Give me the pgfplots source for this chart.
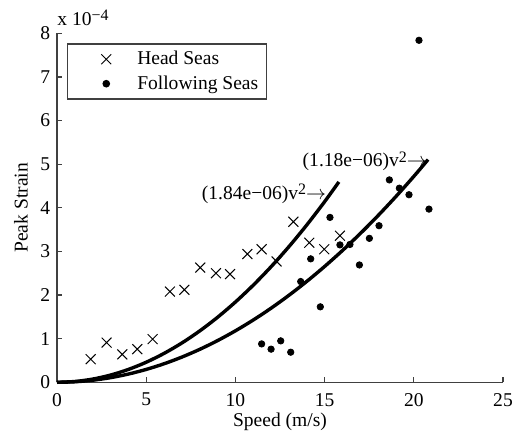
\documentclass[border=0pt]{standalone}
\usepackage{fontspec}
\setmainfont{Liberation Serif}
\usepackage{pgfplots}
\pgfplotsset{compat=1.18}
\begin{document}
\fontsize{9.8}{11.8}\selectfont
\begin{tikzpicture}
\useasboundingbox (-28.5bp,-27.35bp) rectangle (232bp,191.15bp);
\begin{axis}[at={(0,0)}, anchor=south west, scale only axis,
  width=223bp, height=174.5bp,
  xmin=0, xmax=25, ymin=0, ymax=8, clip=false,
  axis lines=left, axis line style={-, black!75, line width=0.7bp},
  xtick={0,5,...,25}, ytick={0,1,...,8},
  tick align=inside, major tick length=2.5bp,
  tick style={black!75, line width=0.6bp},
  /pgf/number format/assume math mode=true,
  scaled y ticks=false,
  xticklabel style={yshift=-2bp},
  xlabel={Speed (m/s)}, ylabel={Peak Strain},
  xlabel style={at={(axis description cs:0.5,-0.1146)}, anchor=center},
  ylabel style={at={(axis description cs:-0.0807,0.5)}, anchor=center},
  legend style={at={(axis description cs:0.0217,0.971)}, anchor=north west,
    draw=black!75, line width=0.6bp, inner xsep=2bp, inner ysep=1.5bp,
    cells={anchor=west}, row sep=0bp},
  legend image code/.code={\path[draw=none,fill=none] (0bp,0bp) (31bp,0bp);
    \draw[mark repeat=2,mark phase=2,#1] plot coordinates {(0bp,0bp)(17.5bp,0bp)(35bp,0bp)};},
]
\addplot[only marks, mark=x, mark size=3.5bp, line width=0.5bp, black] coordinates {
(1.89,0.53) (2.78,0.91) (3.66,0.64) (4.50,0.76) (5.36,0.99) (6.33,2.08)
(7.14,2.12) (8.03,2.63) (8.91,2.50) (9.70,2.48) (10.67,2.94) (11.47,3.05)
(12.31,2.77) (13.25,3.68) (14.14,3.20) (14.98,3.05) (15.86,3.36)
};
\addlegendentry{Head Seas}
\addplot[only marks, mark=*, mark size=1.6bp, black] coordinates {
(11.47,0.88) (12.00,0.76) (12.54,0.95) (13.10,0.69) (13.66,2.31) (14.22,2.83)
(14.76,1.73) (15.30,3.78) (15.86,3.15) (16.42,3.16) (16.95,2.69) (17.51,3.30)
(18.05,3.59) (18.63,4.64) (19.19,4.45) (19.73,4.30) (20.29,7.84) (20.85,3.97)
};
\addlegendentry{Following Seas}
\addplot[black, line width=1.7bp, smooth, forget plot] coordinates {
(0,0) (1,0.0184) (2,0.0736) (3,0.1656) (4,0.2944) (5,0.46) (6,0.6624) (7,0.9016)
(8,1.1776) (9,1.4904) (10,1.84) (11,2.2264) (12,2.6496) (13,3.1096) (14,3.6064)
(15,4.14) (15.8,4.5934)
};
\addplot[black, line width=1.7bp, smooth, forget plot] coordinates {
(0,0) (1,0.0118) (2,0.0472) (3,0.1062) (4,0.1888) (5,0.295) (6,0.4248) (7,0.5782)
(8,0.7552) (9,0.9558) (10,1.18) (11,1.4278) (12,1.6992) (13,1.9942) (14,2.3128)
(15,2.655) (16,3.0208) (17,3.4102) (18,3.8232) (19,4.2598) (20,4.72) (20.8,5.1052)
};
\node[anchor=base east, inner sep=0] at (axis cs:15.1,4.2) {(1.84e−06)v\raisebox{0.5ex}{\fontsize{8}{9}\selectfont 2}$\rightarrow$};
\node[anchor=base east, inner sep=0] at (axis cs:20.75,4.94) {(1.18e−06)v\raisebox{0.5ex}{\fontsize{8}{9}\selectfont 2}$\rightarrow$};
\node[anchor=base west, inner sep=0, yshift=4bp] at (axis description cs:0,1) {x 10\raisebox{0.5ex}{\fontsize{8}{9}\selectfont −4}};
\end{axis}
\end{tikzpicture}
\end{document}
